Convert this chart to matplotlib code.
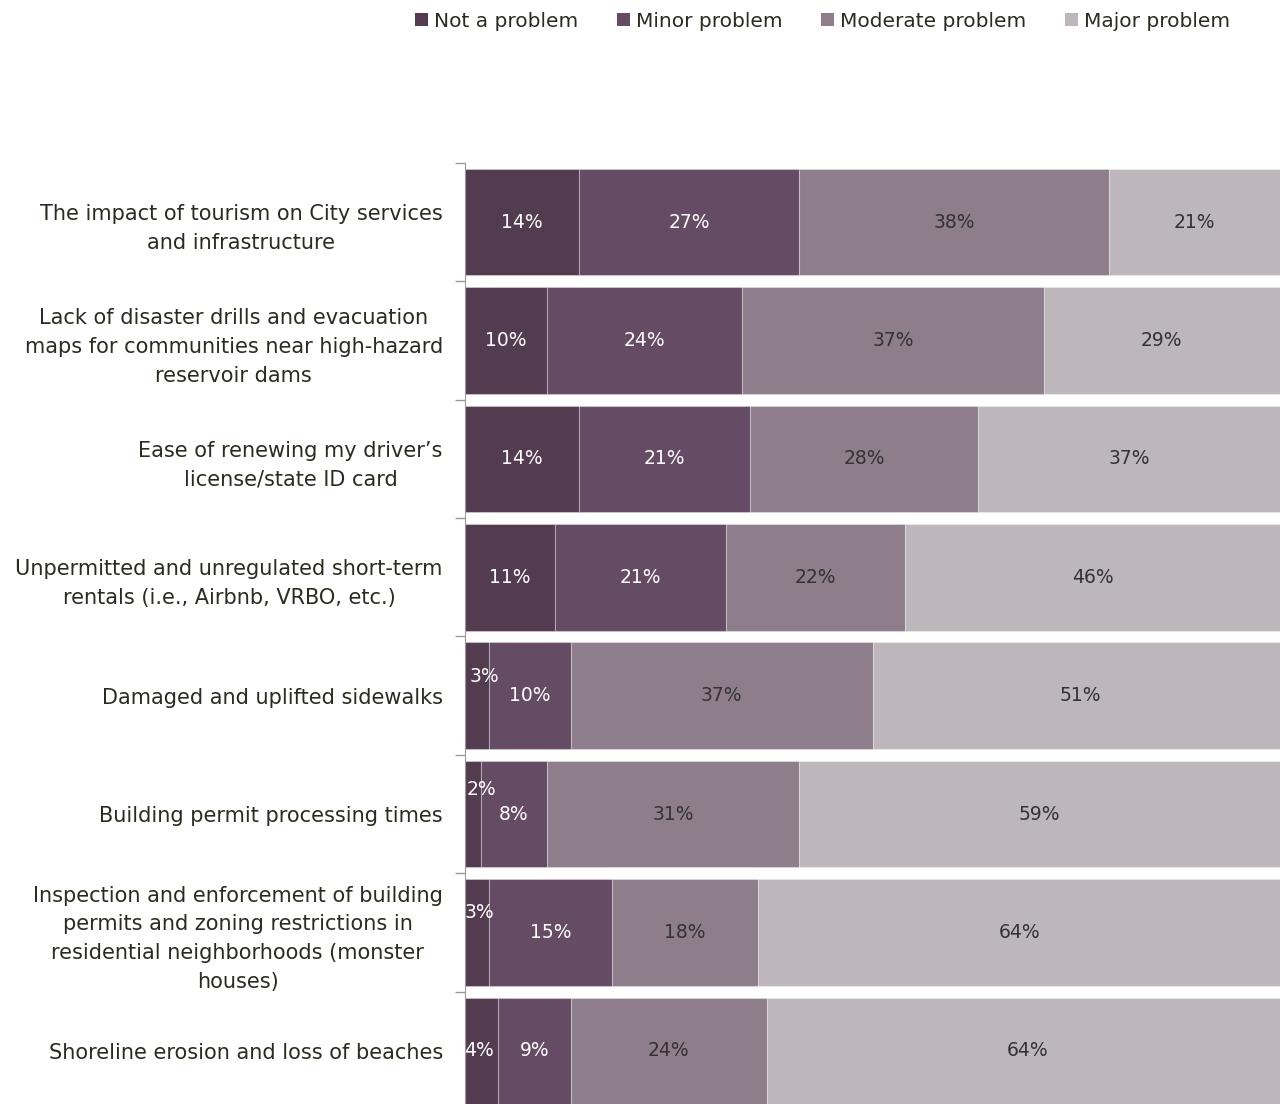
import matplotlib
matplotlib.use("Agg")
import matplotlib.pyplot as plt
from matplotlib.patches import Patch

# Survey items, top to bottom
categories = [
    "The impact of tourism on City services\nand infrastructure",
    "Lack of disaster drills and evacuation\nmaps for communities near high-hazard\nreservoir dams",
    "Ease of renewing my driver\u2019s\nlicense/state ID card",
    "Unpermitted and unregulated short-term\nrentals (i.e., Airbnb, VRBO, etc.)",
    "Damaged and uplifted sidewalks",
    "Building permit processing times",
    "Inspection and enforcement of building\npermits and zoning restrictions in\nresidential neighborhoods (monster\nhouses)",
    "Shoreline erosion and loss of beaches",
]

series_names = ["Not a problem", "Minor problem", "Moderate problem", "Major problem"]

not_a_problem = [14, 10, 14, 11, 3, 2, 3, 4]
minor_problem = [27, 24, 21, 21, 10, 8, 15, 9]
moderate_problem = [38, 37, 28, 22, 37, 31, 18, 24]
major_problem = [21, 29, 37, 46, 51, 59, 64, 64]

series = [not_a_problem, minor_problem, moderate_problem, major_problem]
colors = ["#533b50", "#654b64", "#8e7e8c", "#bdb6ba"]
label_colors = ["white", "white", "#333333", "#333333"]
text_color = "#2b2b22"

# tiny segments get their labels nudged (points) so they stay readable
nudges = {(0, 4): (3, 14), (0, 5): (1, 18), (0, 6): (0, 14), (0, 7): (-1, 0)}

fig = plt.figure(figsize=(12.8, 11.04), dpi=100)
ax = fig.add_axes([0.3633, -0.0054, 0.6367, 0.8578])

y = list(range(len(categories)))
left = [0] * len(categories)
for i, (vals, col) in enumerate(zip(series, colors)):
    ax.barh(y, vals, left=left, height=0.9, color=col,
            edgecolor=(1, 1, 1, 0.3), linewidth=0.8)
    for j, v in enumerate(vals):
        if (i, j) in nudges:
            dx, dy = nudges[(i, j)]
            ax.annotate(f"{v}%", (left[j], j), xytext=(dx, dy),
                        textcoords="offset points", ha="left", va="center",
                        fontsize=13.5, color=label_colors[i])
        else:
            ax.text(left[j] + v / 2, j, f"{v}%", ha="center", va="center",
                    fontsize=13.5, color=label_colors[i])
    left = [a + b for a, b in zip(left, vals)]

ax.set_xlim(0, 100)
ax.set_ylim(len(categories) - 0.5, -0.5)
ax.set_xticks([])

# category labels at centres, small ticks between categories
ax.set_yticks(y)
ax.set_yticklabels(categories, fontsize=15, color=text_color,
                   multialignment="center", linespacing=1.55)
ax.set_yticks([k - 0.5 for k in range(len(categories) + 1)], minor=True)
ax.tick_params(axis="y", which="major", length=0, pad=16)
ax.tick_params(axis="y", which="minor", length=7, color="#999999", width=1)

for side in ["top", "right", "bottom"]:
    ax.spines[side].set_visible(False)
ax.spines["left"].set_color("#999999")

handles = [Patch(facecolor=c, edgecolor="none") for c in colors]
fig.legend(handles, series_names, loc="upper right",
           bbox_to_anchor=(0.975, 1.006), ncol=4, frameon=False,
           fontsize=14.5, handlelength=0.65, handleheight=0.65,
           handletextpad=0.3, columnspacing=1.9, labelcolor=text_color)

fig.savefig("out.png", dpi=100)
